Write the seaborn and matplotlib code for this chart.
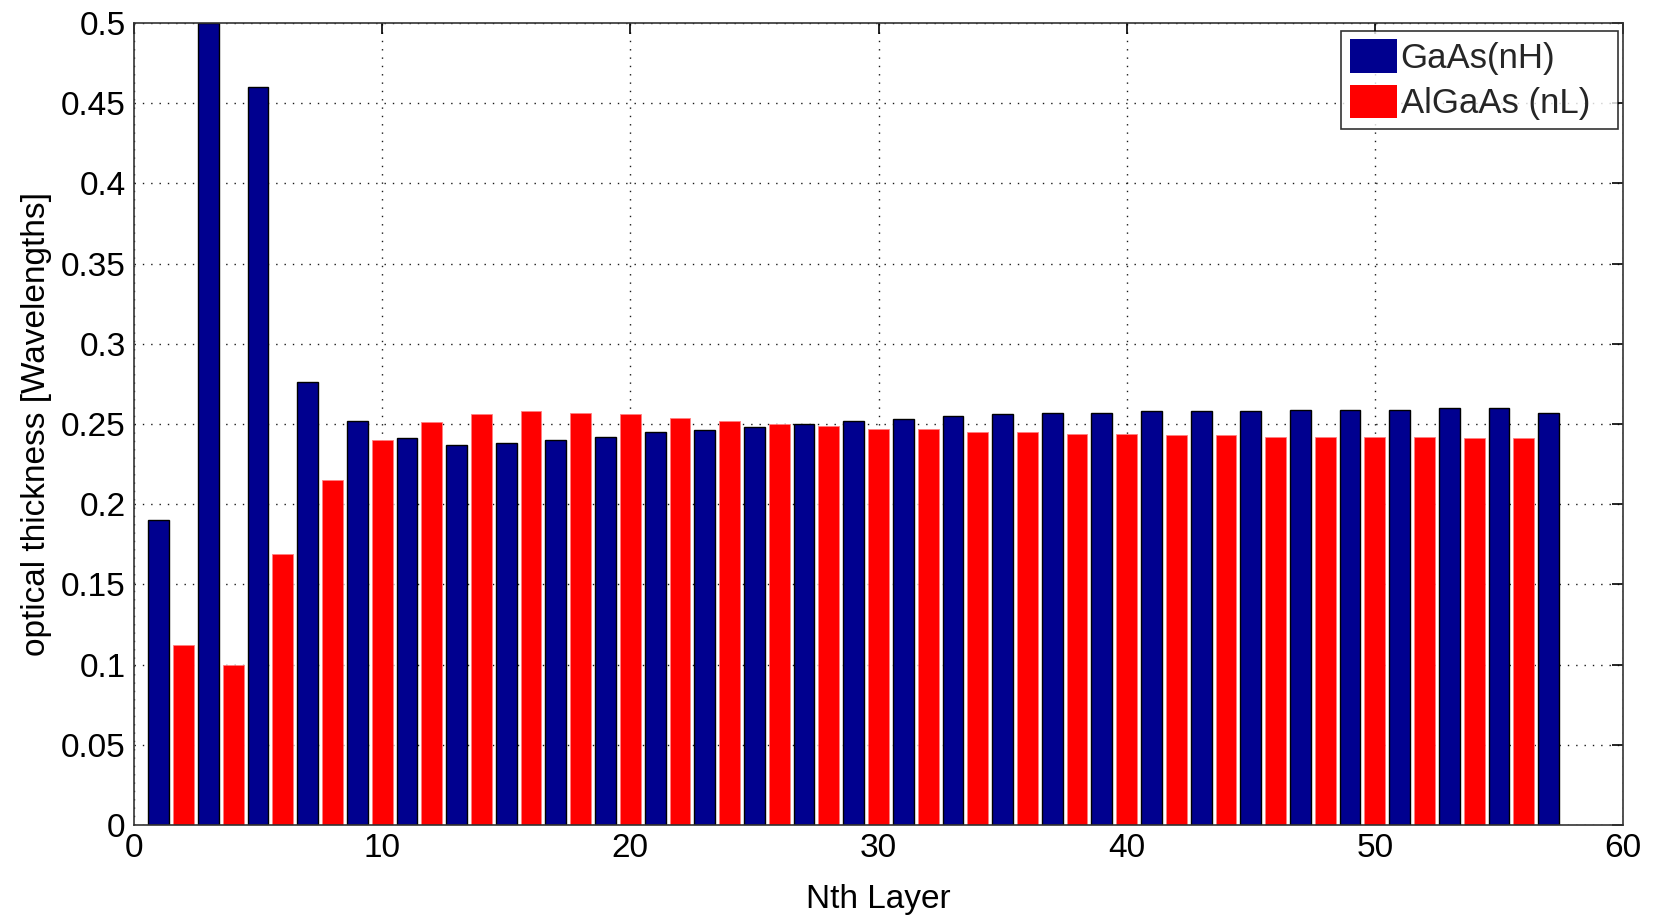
import numpy as np
import pandas as pd
import matplotlib
matplotlib.use("Agg")
import matplotlib.pyplot as plt
import seaborn as sns

# Optical thickness of each layer in the stack (odd = GaAs, even = AlGaAs)
gaas_layers = list(range(1, 58, 2))
gaas_thickness = [0.190, 0.500, 0.460, 0.276, 0.252, 0.241, 0.237, 0.238, 0.240,
                  0.242, 0.245, 0.246, 0.248, 0.250, 0.252, 0.253, 0.255, 0.256,
                  0.257, 0.257, 0.258, 0.258, 0.258, 0.259, 0.259, 0.259, 0.260,
                  0.260, 0.257]
algaas_layers = list(range(2, 57, 2))
algaas_thickness = [0.112, 0.100, 0.169, 0.215, 0.240, 0.251, 0.256, 0.258, 0.257,
                    0.256, 0.254, 0.252, 0.250, 0.249, 0.247, 0.247, 0.245, 0.245,
                    0.244, 0.244, 0.243, 0.243, 0.242, 0.242, 0.242, 0.242, 0.241,
                    0.241]
series_names = ["GaAs(nH)", "AlGaAs (nL)"]
series_colors = ["#00008F", "#FF0000"]
x_ticks = [0, 10, 20, 30, 40, 50, 60]
y_ticks = [0, 0.05, 0.1, 0.15, 0.2, 0.25, 0.3, 0.35, 0.4, 0.45, 0.5]
y_tick_labels = ["0", "0.05", "0.1", "0.15", "0.2", "0.25", "0.3", "0.35", "0.4", "0.45", "0.5"]

df = pd.concat([
    pd.DataFrame({"layer": gaas_layers, "thickness": gaas_thickness, "material": series_names[0]}),
    pd.DataFrame({"layer": algaas_layers, "thickness": algaas_thickness, "material": series_names[1]}),
]).sort_values("layer").reset_index(drop=True)

sns.set_theme(style="white")
plt.rcParams["font.family"] = ["Liberation Sans", "DejaVu Sans"]

fig = plt.figure(figsize=(16.56, 9.17), dpi=100)
ax = fig.add_axes([0.0809, 0.1003, 0.8992, 0.8746])

sns.barplot(data=df, x="layer", y="thickness", hue="material",
            hue_order=series_names, palette=series_colors,
            native_scale=True, dodge=False, width=0.84, ax=ax,
            errorbar=None, saturation=1, legend=True)

# edge styling per series
for patch in ax.patches:
    fc = patch.get_facecolor()
    if fc[0] < 0.5:
        patch.set_edgecolor("black")
        patch.set_linewidth(1.0)
    else:
        patch.set_edgecolor("#FF8080")
        patch.set_linewidth(0.6)

ax.set_xlim(0, 60)
ax.set_ylim(0, 0.5)
ax.set_xticks(x_ticks)
ax.set_xticklabels([str(t) for t in x_ticks])
ax.set_yticks(y_ticks)
ax.set_yticklabels(y_tick_labels)
ax.tick_params(axis="both", direction="in", length=8, width=1.2, labelsize=24,
               top=True, right=True, colors="black", pad=6)
ax.grid(True, linestyle=(0, (1, 5)), color="black", linewidth=1.0, alpha=0.9)
ax.set_axisbelow(True)
for s in ax.spines.values():
    s.set_visible(True)
    s.set_color("#333333")
    s.set_linewidth(1.2)

ax.set_xlabel("Nth Layer", fontsize=24, color="black", labelpad=14)
ax.set_ylabel("optical thickness [Wavelengths]", fontsize=24, color="black", labelpad=6)

leg = ax.legend(loc="upper left", bbox_to_anchor=(0.8106, 0.8653, 0.186, 0.1251),
                mode="expand", borderaxespad=0, fontsize=25, frameon=True,
                fancybox=False, edgecolor="black", handlelength=1.35,
                handleheight=1.1, handletextpad=0.12, borderpad=0.25,
                labelspacing=0.28)
leg.get_frame().set_linewidth(1.2)
for h in leg.legend_handles:
    h.set_edgecolor("none")

fig.savefig("out.png", dpi=100, facecolor="white")
